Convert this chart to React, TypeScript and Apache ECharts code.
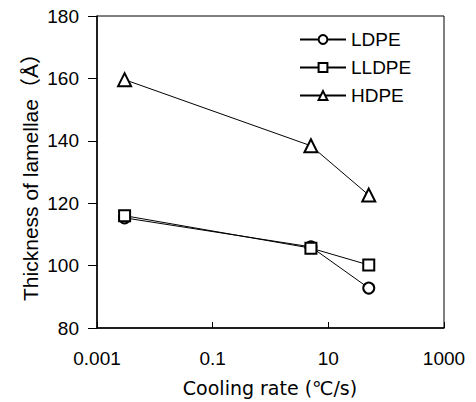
import React, { useEffect, useRef } from "react";
import * as echarts from "echarts";

const coolingRates = [0.003, 5, 50];
const ldpe = [115.3, 106, 92.8];
const lldpe = [116, 105.6, 100.2];
const hdpe = [159.6, 138.4, 122.6];
const seriesNames = ["LDPE", "LLDPE", "HDPE"];
const symbols = ["emptyCircle", "emptyRect", "emptyTriangle"];
const symbolSizes = [11, 11, 13];

const yTitle = "Thickness of lamellae（Å）";
const xTitle = "Cooling rate (℃/s)";

export default function App() {
  const ref = useRef<HTMLDivElement>(null);
  useEffect(() => {
    if (!ref.current) return;
    const chart = echarts.init(ref.current, null, { renderer: "svg" });
    const values = [ldpe, lldpe, hdpe];
    const font = "'Liberation Sans', Arial, 'Noto Sans CJK JP', sans-serif";
    chart.setOption({
      animation: false,
      backgroundColor: "#fff",
      grid: {
        left: 97,
        top: 16,
        right: 32,
        bottom: 74,
        show: true,
        borderColor: "#000",
        borderWidth: 1,
      },
      legend: {
        orient: "vertical",
        left: 299,
        top: 30,
        padding: 0,
        itemWidth: 46,
        itemHeight: 11,
        itemGap: 9,
        textStyle: { fontSize: 19, color: "#000", fontFamily: font, lineHeight: 19 },
        data: seriesNames,
      },
      xAxis: {
        type: "log",
        logBase: 10,
        min: 0.001,
        max: 1000,
        interval: 2,
        axisLine: { lineStyle: { color: "#000", width: 1.5 } },
        axisTick: { inside: true, length: 6, lineStyle: { color: "#000" } },
        axisLabel: {
          fontSize: 19,
          color: "#000",
          fontFamily: font,
          margin: 21,
          formatter: (v: number) => {
            const e = Math.round(Math.log10(v));
            return e < 0 ? v.toFixed(-e) : String(Math.round(v));
          },
        },
        splitLine: { show: false },
        minorTick: { show: false },
      },
      yAxis: {
        type: "value",
        min: 80,
        max: 180,
        interval: 20,
        axisLine: { show: true, lineStyle: { color: "#000", width: 1.5 } },
        axisTick: { show: true, inside: false, length: 9, lineStyle: { color: "#000" } },
        axisLabel: { fontSize: 19, color: "#000", fontFamily: font, margin: 18 },
        splitLine: { show: false },
      },
      graphic: [
        {
          type: "text",
          x: 30,
          y: 172,
          rotation: Math.PI / 2,
          style: {
            text: yTitle,
            fontSize: 21,
            fill: "#000",
            fontFamily: font,
            textAlign: "center",
            textVerticalAlign: "middle",
          },
        },
        {
          type: "text",
          x: 270,
          y: 388,
          style: {
            text: xTitle,
            fontSize: 19,
            fill: "#000",
            fontFamily: "'DejaVu Sans', 'Noto Sans CJK JP', sans-serif",
            textAlign: "center",
            textVerticalAlign: "middle",
          },
        },
      ],
      series: seriesNames.map((name, i) => ({
        name,
        type: "line",
        data: coolingRates.map((x, j) => [x, values[i][j]]),
        symbol: symbols[i],
        symbolSize: symbolSizes[i],
        lineStyle: { color: "#000", width: 1 },
        itemStyle: { color: "#000", borderColor: "#000", borderWidth: 1.5 },
        z: 3 + i,
      })),
    });
    return () => chart.dispose();
  }, []);
  return (
    <div
      ref={ref}
      style={{ position: "absolute", left: 0, top: 0, width: 476, height: 402 }}
    />
  );
}
